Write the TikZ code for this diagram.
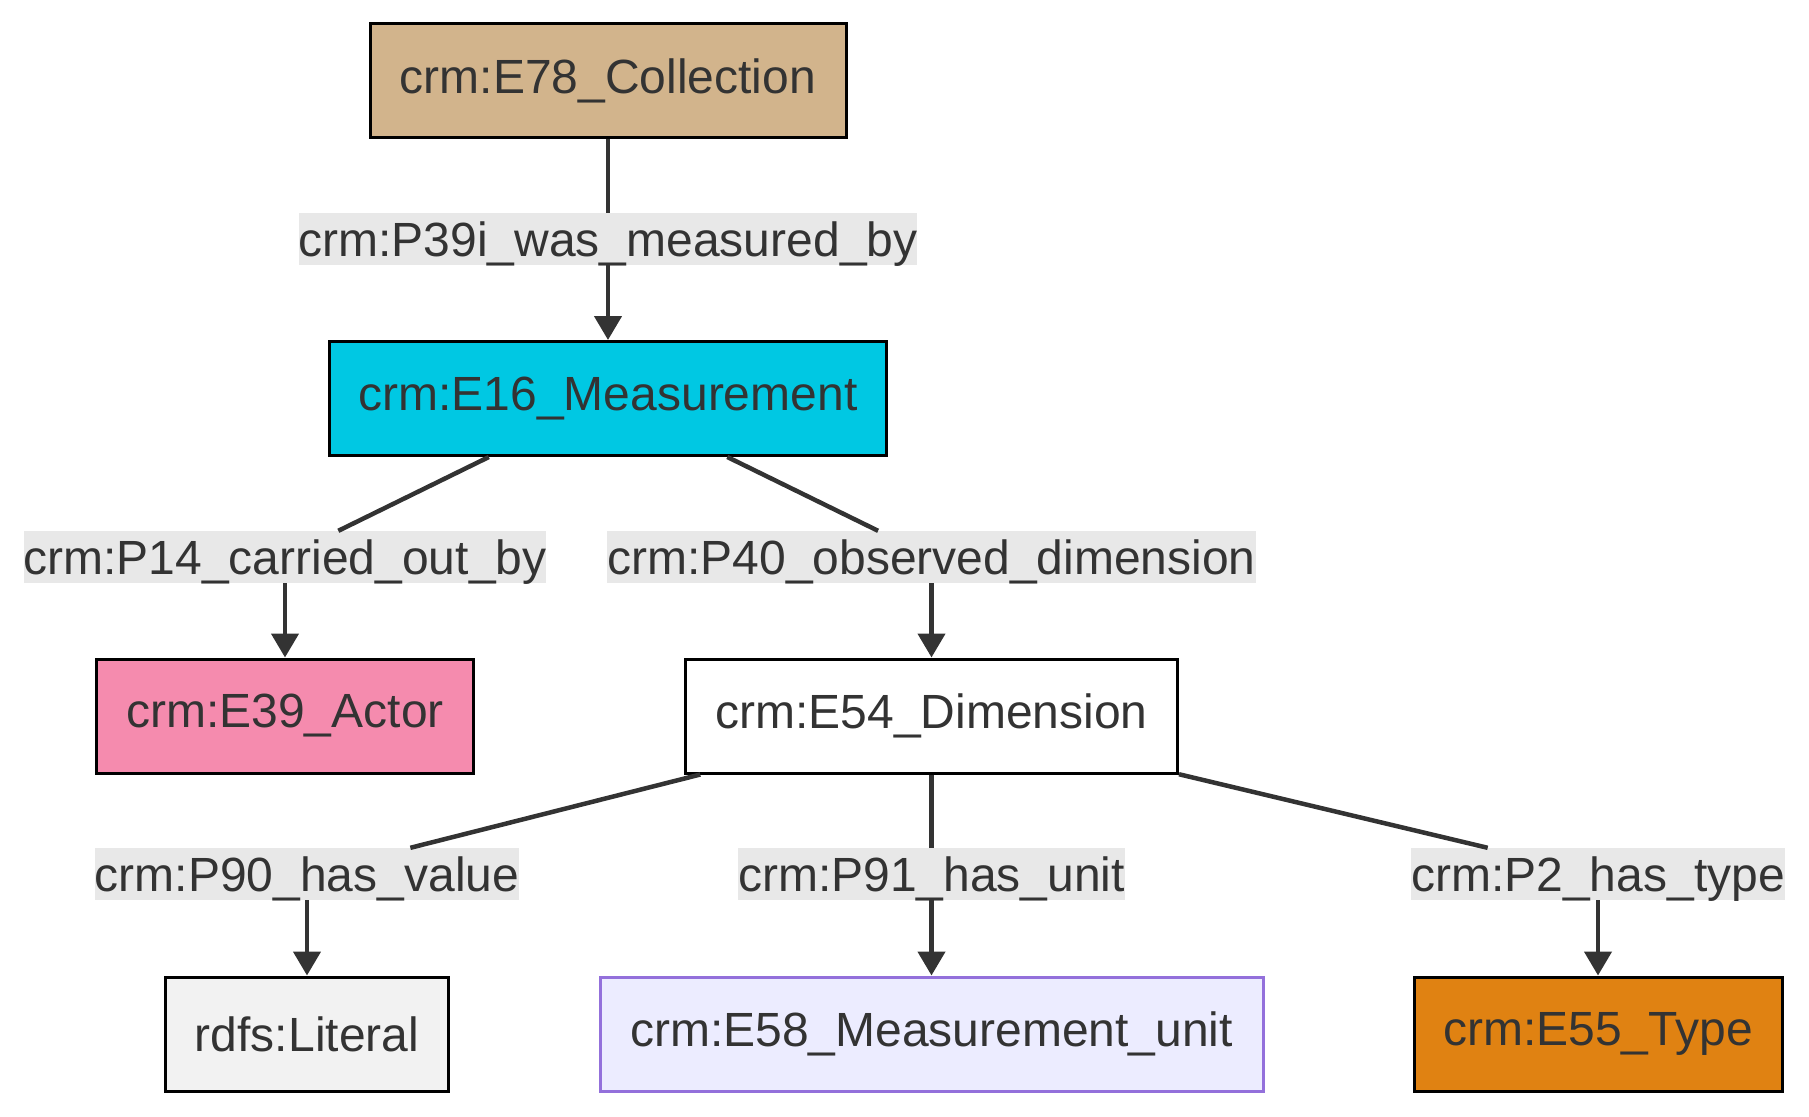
\documentclass[tikz,border=0pt]{standalone}
\usepackage{fontspec}
\setmainfont{Liberation Sans}
\usetikzlibrary{arrows.meta}

\definecolor{txtgray}{HTML}{333333}
\definecolor{lblgray}{HTML}{E8E8E8}
\definecolor{tanfill}{HTML}{D2B48C}
\definecolor{measfill}{HTML}{00C8E3}
\definecolor{actorfill}{HTML}{F58BAE}
\definecolor{litfill}{HTML}{F2F2F2}
\definecolor{unitfill}{HTML}{ECECFF}
\definecolor{unitdraw}{HTML}{9370DB}
\definecolor{typefill}{HTML}{E08212}

\begin{document}
\begin{tikzpicture}[x=1pt,y=-1pt,
    every node/.style={font=\fontsize{48}{56}\selectfont, text=txtgray},
    cls/.style={draw=black, line width=3pt, minimum height=114pt, inner sep=0pt},
    prop/.style={fill=lblgray, inner sep=0pt, text height=43pt, text depth=9pt},
    link/.style={draw=txtgray, line width=4.5pt},
    arr/.style={link, -{Triangle[length=24pt,width=27pt]}}]
    \useasboundingbox (0,0) rectangle (1809,1116);

        % Draw classes
    \node[cls, fill=tanfill, minimum width=476pt] (coll) at (608,80.5) {crm:E78\_Collection};
    \node[cls, fill=measfill, minimum width=557pt] (meas) at (608,398.5) {crm:E16\_Measurement};
    \node[cls, fill=actorfill, minimum width=377pt] (actor) at (285,716) {crm:E39\_Actor};
    \node[cls, fill=white, minimum width=492pt] (dim) at (931.5,716) {crm:E54\_Dimension};
    \node[cls, fill=litfill, minimum width=283pt] (lit) at (307,1034) {rdfs:Literal};
    \node[cls, draw=unitdraw, fill=unitfill, minimum width=663pt] (unit) at (931.5,1034) {crm:E58\_Measurement\_unit};
    \node[cls, fill=typefill, minimum width=368pt] (type) at (1598,1034) {crm:E55\_Type};

        % Add property labels
    \node[prop] (p39) at (608,239) {crm:P39i\_was\_measured\_by};
    \node[prop] (p14) at (285,557) {crm:P14\_carried\_out\_by};
    \node[prop] (p40) at (931.5,557) {crm:P40\_observed\_dimension};
    \node[prop] (p90) at (307,874) {crm:P90\_has\_value};
    \node[prop] (p91) at (931.5,874) {crm:P91\_has\_unit};
    \node[prop] (p2) at (1598,874) {crm:P2\_has\_type};

        % Draw properties
    \draw[link] (coll) -- (p39);
    \draw[arr] (p39) -- (meas);
    \draw[link] (meas) -- (p14);
    \draw[arr] (p14) -- (actor);
    \draw[link] (meas) -- (p40);
    \draw[arr] (p40) -- (dim);
    \draw[link] (dim) -- (p90);
    \draw[arr] (p90) -- (lit);
    \draw[link] (dim) -- (p91);
    \draw[arr] (p91) -- (unit);
    \draw[link] (dim) -- (p2);
    \draw[arr] (p2) -- (type);
\end{tikzpicture}
\end{document}
